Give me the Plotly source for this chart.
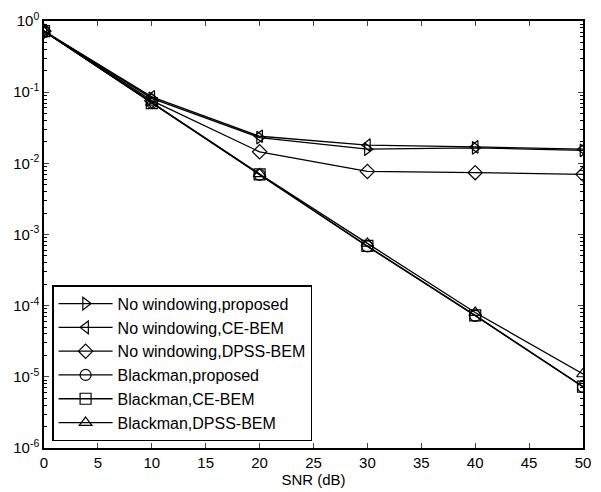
import plotly.graph_objects as go

snr = [0, 10, 20, 30, 40, 50]

nw_proposed = [0.72, 0.082, 0.023, 0.0158, 0.0165, 0.0152]
nw_ce = [0.72, 0.086, 0.024, 0.018, 0.017, 0.0158]
nw_dpss = [0.72, 0.076, 0.0145, 0.0077, 0.0074, 0.0070]
bm_proposed = [0.72, 0.071, 0.0069, 0.00068, 7.2e-5, 7.2e-6]
bm_ce = [0.72, 0.070, 0.0070, 0.00069, 7.3e-5, 7.3e-6]
bm_dpss = [0.72, 0.072, 0.0071, 0.00075, 8.0e-5, 1.1e-5]

names = ["No windowing,proposed", "No windowing,CE-BEM", "No windowing,DPSS-BEM",
         "Blackman,proposed", "Blackman,CE-BEM", "Blackman,DPSS-BEM"]
series = [nw_proposed, nw_ce, nw_dpss, bm_proposed, bm_ce, bm_dpss]
symbols = ["triangle-right-open", "triangle-left-open", "diamond-open",
           "circle-open", "square-open", "triangle-up-open"]

y_exps = [0, -1, -2, -3, -4, -5, -6]
y_tickvals = [10 ** e for e in y_exps]
y_ticktext = ["10<sup>%d</sup>" % e for e in y_exps]
x_ticks = [0, 5, 10, 15, 20, 25, 30, 35, 40, 45, 50]

minor_vals = [m * 10 ** e for e in range(-6, 0) for m in range(2, 10)]

fig = go.Figure()
for name, vals, sym in zip(names, series, symbols):
    fig.add_trace(go.Scatter(
        x=snr, y=vals, name=name, mode="lines+markers",
        line=dict(color="black", width=1.3),
        marker=dict(symbol=sym, size=11, color="black",
                    line=dict(color="black", width=1.2)),
    ))

font = "Liberation Sans, Arial, sans-serif"
fig.update_layout(
    width=601, height=492,
    margin=dict(l=44, r=18, t=21, b=44, autoexpand=False),
    paper_bgcolor="white", plot_bgcolor="white",
    font=dict(family=font, size=15, color="black"),
    showlegend=True,
    legend=dict(
        x=0.015, y=0.016, xanchor="left", yanchor="bottom",
        bgcolor="white", bordercolor="black", borderwidth=1.5,
        font=dict(family=font, size=16, color="black"),
        itemwidth=54, tracegroupgap=0, traceorder="normal",
    ),
)
fig.update_xaxes(
    range=[0, 50], tickvals=x_ticks, ticks="inside", ticklen=5,
    showline=True, linecolor="black", linewidth=1.5, mirror="ticks",
    showgrid=False, zeroline=False, automargin=False,
    tickfont=dict(family=font, size=15),
    title=dict(text="SNR (dB)", font=dict(family=font, size=15), standoff=5),
)
fig.update_yaxes(
    type="log", range=[-6, 0], tickmode="array",
    tickvals=y_tickvals, ticktext=y_ticktext,
    ticks="inside", ticklen=5,
    showline=True, linecolor="black", linewidth=1.5, mirror="ticks",
    showgrid=False, zeroline=False, automargin=False,
    tickfont=dict(family=font, size=15),
    minor=dict(tickmode="array", tickvals=minor_vals, ticks="inside",
               ticklen=3, tickcolor="black", showgrid=False),
)

fig.write_html(
    "out.html",
    config={"displayModeBar": False},
    post_script="document.body.style.margin='0';document.body.style.padding='0';",
)
